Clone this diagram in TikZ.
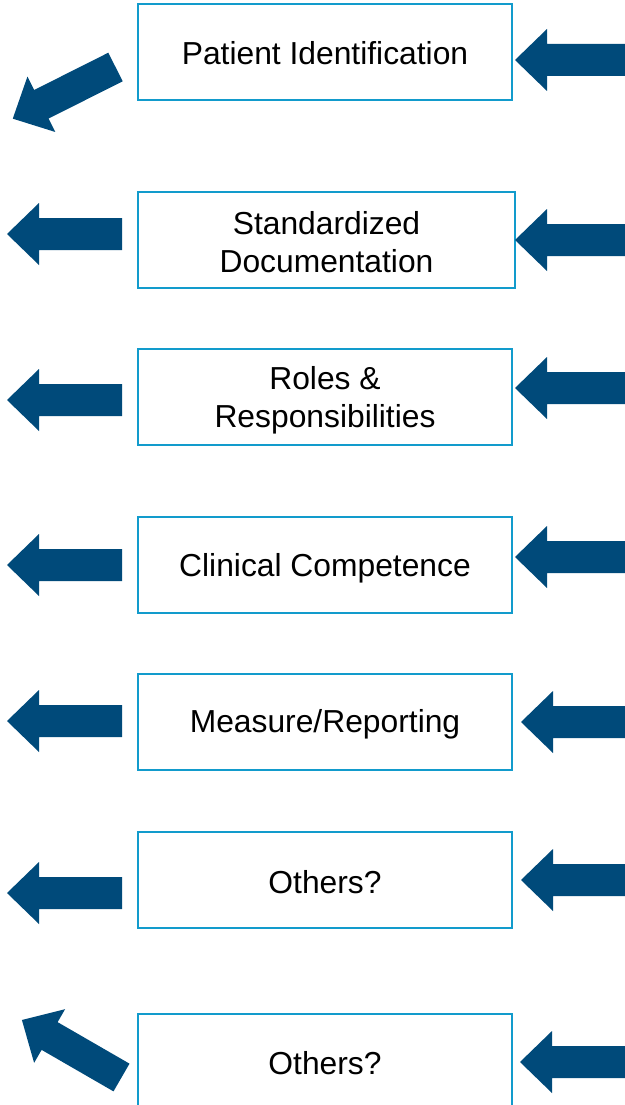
\documentclass[tikz,border=0pt]{standalone}
\usepackage{fontspec}
\setmainfont{Liberation Sans}
\definecolor{arrowblue}{RGB}{0,74,122}
\definecolor{boxblue}{RGB}{18,155,204}
\tikzset{
  labelbox/.style={draw=boxblue, line width=1.6pt, fill=white, inner sep=0pt,
    minimum width=374pt, minimum height=96pt},
  boxtext/.style={inner sep=0pt, align=center, font=\fontsize{31.8}{38}\selectfont},
  fatarrow/.pic={\fill[arrowblue] (0pt,16pt) -- (83pt,16pt) -- (83pt,31pt) -- (115pt,0pt)
      -- (83pt,-31pt) -- (83pt,-16pt) -- (0pt,-16pt) -- cycle;}
}
\begin{document}
\begin{tikzpicture}[x=1pt,y=1pt]
\useasboundingbox (0,0) rectangle (624,-1105);
% boxes
\node[labelbox] (b1) at (325,-52) {};
\node[labelbox, minimum width=377pt] (b2) at (326.5,-240) {};
\node[labelbox] (b3) at (325,-397) {};
\node[labelbox] (b4) at (325,-565) {};
\node[labelbox] (b5) at (325,-722) {};
\node[labelbox] (b6) at (325,-880) {};
\node[labelbox] (b7) at (325,-1062) {};
% texts
\node[boxtext] (t1) at ([yshift=-1pt]b1.center) {Patient Identification};
\node[boxtext] (t2) at ([yshift=-2pt]b2.center) {Standardized\\Documentation};
\node[boxtext] (t3) at ([yshift=-3pt]b3.center) {Roles \&\\Responsibilities};
\node[boxtext] (t4) at ([yshift=-3pt]b4.center) {Clinical Competence};
\node[boxtext] (t5) at ([yshift=-2pt]b5.center) {Measure/Reporting};
\node[boxtext] (t6) at ([yshift=-2pt]b6.center) {Others?};
\node[boxtext] (t7) at ([yshift=-1pt]b7.center) {Others?};
% left arrows (outgoing)
\pic[rotate=206.7] (l1) at (115.5,-67) {fatarrow};
\pic[rotate=180] (l2) at (122,-234) {fatarrow};
\pic[rotate=180] (l3) at (122,-400) {fatarrow};
\pic[rotate=180] (l4) at (122,-565) {fatarrow};
\pic[rotate=180] (l5) at (122,-721) {fatarrow};
\pic[rotate=180] (l6) at (122,-893) {fatarrow};
\pic[rotate=150] (l7) at (121.5,-1077.5) {fatarrow};
% right arrows (incoming)
\pic[rotate=180] (r1) at (630,-60) {fatarrow};
\pic[rotate=180] (r2) at (630,-240) {fatarrow};
\pic[rotate=180] (r3) at (630,-388) {fatarrow};
\pic[rotate=180] (r4) at (630,-557) {fatarrow};
\pic[rotate=180] (r5) at (636,-722) {fatarrow};
\pic[rotate=180] (r6) at (636,-880) {fatarrow};
\pic[rotate=180] (r7) at (635,-1062) {fatarrow};
\end{tikzpicture}
\end{document}
